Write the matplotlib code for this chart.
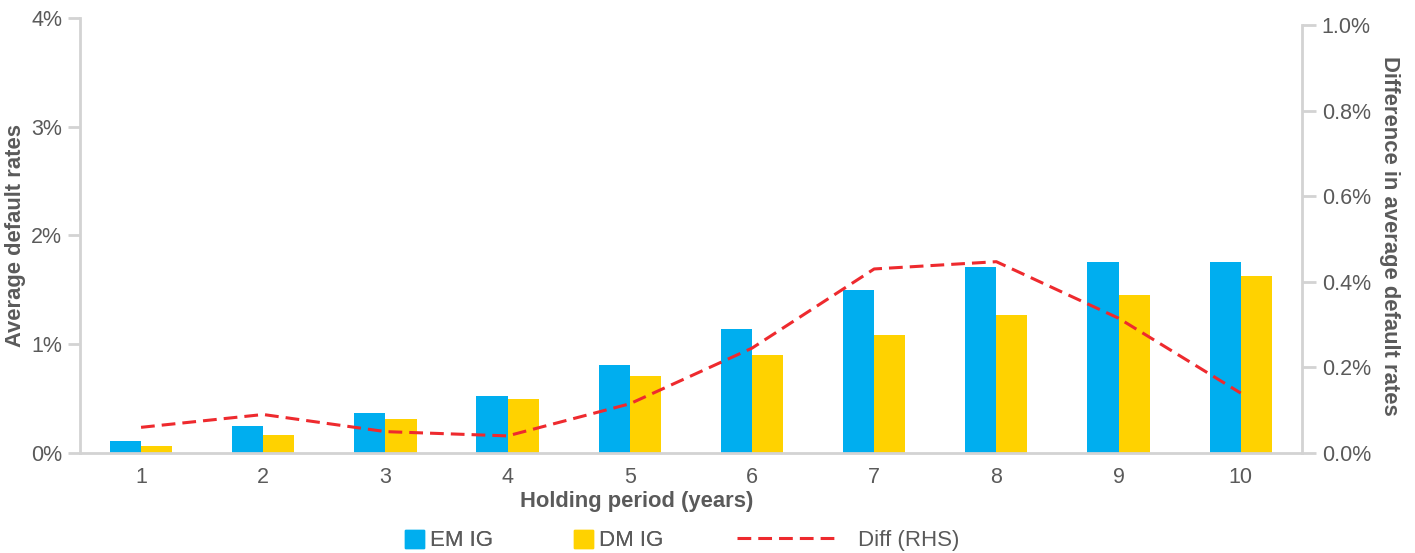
import numpy as np
import matplotlib
matplotlib.use("Agg")
import matplotlib.pyplot as plt
from matplotlib.patches import Patch
from matplotlib.lines import Line2D
from matplotlib.ticker import FuncFormatter

plt.rcParams['font.family'] = ['Liberation Sans', 'DejaVu Sans']

# Data
years = [1, 2, 3, 4, 5, 6, 7, 8, 9, 10]
em_ig = [0.11, 0.25, 0.37, 0.52, 0.81, 1.14, 1.50, 1.71, 1.76, 1.76]
dm_ig = [0.06, 0.17, 0.31, 0.50, 0.71, 0.90, 1.085, 1.27, 1.45, 1.63]
diff = [0.06, 0.09, 0.05, 0.04, 0.115, 0.245, 0.43, 0.447, 0.315, 0.14]

blue = '#00AEEF'
yellow = '#FFD200'
red = '#EE2A2E'
grey_txt = '#5a5a5a'
grey_ax = '#d3d3d3'

fig = plt.figure(figsize=(14.15, 5.53), dpi=100)
ax = fig.add_axes([0.0565, 0.1808, 0.8635, 0.7867])
ax2 = ax.twinx()

x = np.array(years)
w = 0.255
ax.bar(x - w / 2, em_ig, width=w, color=blue, zorder=2)
ax.bar(x + w / 2, dm_ig, width=w, color=yellow, zorder=2)
ax2.plot(x, diff, color=red, lw=2.2, dashes=(4.5, 2.3), zorder=3)

ax.set_xlim(0.5, 10.5)
ax.set_ylim(0, 4)
ax.set_yticks([0, 1, 2, 3, 4])
ax.yaxis.set_major_formatter(FuncFormatter(lambda v, p: f'{v:.0f}%'))
ax2.set_ylim(0, 1.0164)
ax2.set_yticks([0, 0.2, 0.4, 0.6, 0.8, 1.0])
ax2.yaxis.set_major_formatter(FuncFormatter(lambda v, p: f'{v:.1f}%'))
ax.set_xticks(years)

for a in (ax, ax2):
    a.spines['top'].set_visible(False)
    for s in a.spines.values():
        s.set_color(grey_ax)
        s.set_linewidth(2)
ax.spines['right'].set_visible(False)
ax2.spines['left'].set_visible(False)
ax2.spines['bottom'].set_visible(False)
ax2.spines['right'].set_bounds(0, 1.0)

ax.tick_params(axis='y', colors=grey_ax, length=8.6, width=2, labelcolor=grey_txt,
               labelsize=15.5, pad=4.3)
ax.tick_params(axis='x', length=0, labelcolor=grey_txt, labelsize=15.5, pad=10)
ax2.tick_params(axis='y', colors=grey_ax, length=10, width=2, labelcolor=grey_txt,
                labelsize=15.5, pad=4.3)

ax.set_xlabel('Holding period (years)', fontsize=15.8, fontweight='bold',
              color=grey_txt)
ax.xaxis.set_label_coords(0.456, -0.088)
ax.set_ylabel('Average default rates', fontsize=15.8, fontweight='bold',
              color=grey_txt)
ax.yaxis.set_label_coords(-0.044, 0.5)
ax2.set_ylabel('Difference in average default rates', fontsize=15.8,
               fontweight='bold', color=grey_txt, rotation=270, labelpad=21)

bar_handles = [Patch(color=blue, label='EM IG'), Patch(color=yellow, label='DM IG')]
leg1 = fig.legend(handles=bar_handles, loc='center left', bbox_to_anchor=(0.286, 0.0226),
                  ncol=2, frameon=False, fontsize=16, handlelength=0.86,
                  handleheight=0.86, handletextpad=0.27, columnspacing=3.65,
                  labelcolor=grey_txt, borderpad=0, borderaxespad=0)
line_handle = [Line2D([], [], color=red, lw=2.2, dashes=(4.5, 2.3), label='Diff (RHS)')]
leg2 = fig.legend(handles=line_handle, loc='center left', bbox_to_anchor=(0.5208, 0.0226),
                  frameon=False, fontsize=16, handlelength=4.46, handletextpad=1.0,
                  labelcolor=grey_txt, borderpad=0, borderaxespad=0)
fig.add_artist(leg1)

fig.savefig('out.png', dpi=100)
